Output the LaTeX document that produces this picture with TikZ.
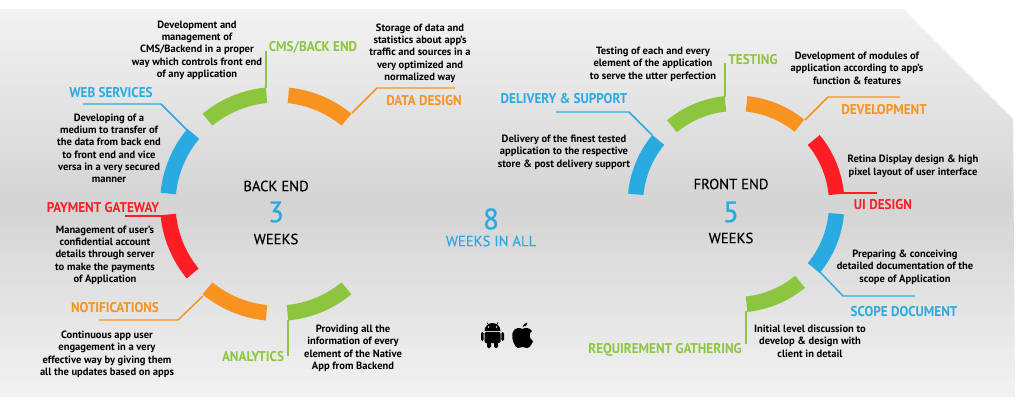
\documentclass[tikz,border=0pt]{standalone}
\usepackage{fontspec}
\setmainfont{PT Sans}
\newfontfamily\headfont[FakeStretch=0.93]{PT Sans}
\newfontfamily\bigfont[FakeBold=0.7]{PT Sans}
\newfontfamily\midfont[FakeBold=0.25]{PT Sans}
\definecolor{cgreen}{HTML}{8CC63F}
\definecolor{corange}{HTML}{F7931E}
\definecolor{cblue}{HTML}{29ABE2}
\definecolor{cred}{HTML}{FF1D25}
\newcommand{\ringarc}[6]{%
  \fill[#1] ({#2+#4*cos(#5)},{#3+#4*sin(#5)}) arc[start angle=#5,end angle=#6,radius=#4] -- ({#2+(#4-15.5)*cos(#6)},{#3+(#4-15.5)*sin(#6)}) arc[start angle=#6,end angle=#5,radius=#4-15.5] -- cycle;}
\tikzset{
  x=0.75pt,y=-0.75pt,
  head/.style={font=\headfont\bfseries\fontsize{10.6pt}{12pt}\selectfont,inner sep=0pt,anchor=center,yshift=-0.75pt},
  desc/.style={font=\bfseries\fontsize{7.9pt}{9.25pt}\selectfont,align=center,text=black,inner sep=0pt,anchor=center,yshift=-0.9pt},
  lead/.style={line width=1.1pt},
  mid/.style={font=\midfont\fontsize{11pt}{13pt}\selectfont,inner sep=0pt,anchor=center},
  big/.style={font=\bigfont\fontsize{22pt}{24pt}\selectfont,text=cblue,inner sep=0pt,anchor=center},
}
\begin{document}
\begin{tikzpicture}
\useasboundingbox (0,0) rectangle (1024,408);
\fill[white] (0,0) rectangle (1024,408);
\begin{scope}
 \clip (0,9) -- (903,9) -- (1013,119) -- (1015,397) -- (0,397) -- cycle;
 \foreach \yy in {9,13,...,397}{
   \pgfmathsetmacro{\pp}{5+12*(1-abs(\yy-203)/194)}
   \fill[black!\pp!white] (0,\yy) rectangle (1024,\yy+4.6);
 }
\end{scope}
% left ring
\ringarc{cgreen}{277}{204}{117}{-95.5}{-129.5}
\ringarc{corange}{277}{204}{117}{-84}{-50.5}
\ringarc{cblue}{277}{204}{117}{-140}{-174.5}
\ringarc{cred}{277}{204}{117}{-185.5}{-219.5}
\ringarc{corange}{277}{204}{117}{-230.5}{-264.5}
\ringarc{cgreen}{277}{204}{117}{-275.5}{-309.5}
% right ring
\ringarc{cgreen}{736}{204}{108.5}{-96}{-129.5}
\ringarc{corange}{736}{204}{108.5}{-84}{-51}
\ringarc{cred}{736}{204}{108.5}{-39.5}{-5.5}
\ringarc{cblue}{736}{204}{108.5}{5.5}{39.5}
\ringarc{cgreen}{736}{204}{108.5}{50.5}{84}
\ringarc{cblue}{736}{204}{108.5}{-140.5}{-174.5}
% leader coordinates
\coordinate (l1a) at (266,51);\coordinate (l1b) at (266,88);
\coordinate (l2a) at (455,88);\coordinate (l2m) at (377,88);\coordinate (l2b) at (352,113);
\coordinate (l3a) at (83,104);\coordinate (l3m) at (161,104);\coordinate (l3b) at (187,130);
\coordinate (l4a) at (125,216);\coordinate (l4b) at (161,216);
\coordinate (l5a) at (99,320);\coordinate (l5m) at (178,320);\coordinate (l5b) at (203,296);
\coordinate (l6a) at (288,356);\coordinate (l6b) at (288,320);
\coordinate (r1a) at (725,63);\coordinate (r1b) at (725,97);
\coordinate (r2a) at (900,97);\coordinate (r2m) at (828,97);\coordinate (r2b) at (805,120);
\coordinate (r3a) at (556,112);\coordinate (r3m) at (629,112);\coordinate (r3b) at (652,135);
\coordinate (r4a) at (877,193);\coordinate (r4b) at (843,193);
\coordinate (r5a) at (915,296);\coordinate (r5m) at (843,296);\coordinate (r5b) at (820,272);
\coordinate (r6a) at (746,344);\coordinate (r6b) at (746,311);
\draw[lead,cgreen] (l1a) -- (l1b);
\draw[lead,corange] (l2a) -- (l2m) -- (l2b);
\draw[lead,cblue] (l3a) -- (l3m) -- (l3b);
\draw[lead,cred] (l4a) -- (l4b);
\draw[lead,corange] (l5a) -- (l5m) -- (l5b);
\draw[lead,cgreen] (l6a) -- (l6b);
\draw[lead,cgreen] (r1a) -- (r1b);
\draw[lead,corange] (r2a) -- (r2m) -- (r2b);
\draw[lead,cblue] (r3a) -- (r3m) -- (r3b);
\draw[lead,cred] (r4a) -- (r4b);
\draw[lead,cblue] (r5a) -- (r5m) -- (r5b);
\draw[lead,cgreen] (r6a) -- (r6b);
% headings
\node[head,text=cgreen] (h1) at (313,46) {CMS/BACK END};
\node[head,text=corange] (h2) at (424,100) {DATA DESIGN};
\node[head,text=cblue] (h3) at (111,92) {WEB SERVICES};
\node[head,text=cred] (h4) at (103,207) {PAYMENT GATEWAY};
\node[head,text=corange] (h5) at (115,307) {NOTIFICATIONS};
\node[head,text=cgreen] (h6) at (253,356) {ANALYTICS};
\node[head,text=cblue] (h7) at (564,98) {DELIVERY \& SUPPORT};
\node[head,text=cgreen] (h8) at (753,59) {TESTING};
\node[head,text=corange] (h9) at (884,109) {DEVELOPMENT};
\node[head,text=cred] (h10) at (883,204) {UI DESIGN};
\node[head,text=cblue] (h11) at (904,311) {SCOPE DOCUMENT};
\node[head,text=cgreen] (h12) at (665,349) {REQUIREMENT GATHERING};
% descriptions
\node[desc] (d1) at (197,49) {Development and\\management of\\CMS/Backend in a proper\\way which controls front end\\of any application};
\node[desc] (d2) at (420,52) {Storage of data and\\statistics about app's\\traffic and sources in a\\very optimized and\\normalized way};
\node[desc] (d3) at (109,147) {Developing of a\\medium to transfer of\\the data from back end\\to front end and vice\\versa in a very secured\\manner};
\node[desc] (d4) at (105,254) {Management of user's\\confidential account\\details through server\\to make the payments\\of Application};
\node[desc] (d5) at (107,353) {Continuous app user\\engagement in a very\\effective way by giving them\\all the updates based on apps};
\node[desc] (d6) at (353,347) {Providing all the\\information of every\\element of the Native\\App from Backend};
\node[desc] (d7) at (564,151) {Delivery of the finest tested\\application to the respective\\store \& post delivery support};
\node[desc] (d8) at (653,63) {Testing of each and every\\element of the application\\to serve the utter perfection};
\node[desc] (d9) at (857,67) {Development of modules of\\application according to app's\\function \& features};
\node[desc] (d10) at (913,165) {Retina Display design \& high\\pixel layout of user interface};
\node[desc] (d11) at (905,266) {Preparing \& conceiving\\detailed documentation of the\\scope of Application};
\node[desc] (d12) at (810,340) {Initial level discussion to\\develop \& design with\\client in detail};
% centres
\node[mid] (c1) at (276,186) {BACK END};
\node[big] (c2) at (276,212) {3};
\node[mid] (c3) at (276,239) {WEEKS};
\node[mid] (c4) at (731,184) {FRONT END};
\node[big] (c5) at (731,212) {5};
\node[mid] (c6) at (731,238) {WEEKS};
\node[big] (c7) at (491,219) {8};
\node[mid,text=cblue] (c8) at (491,241) {WEEKS IN ALL};
% android icon
\fill[black] (484.5,331) -- (500.5,331) arc[start angle=0,end angle=-180,radius=8] -- cycle;
\fill[black,rounded corners=1] (484.5,332) rectangle (500.5,343);
\fill[black,rounded corners=1] (487,342) rectangle (491,348);
\fill[black,rounded corners=1] (494,342) rectangle (498,348);
\fill[black,rounded corners=1] (481,332) rectangle (483.6,341);
\fill[black,rounded corners=1] (501.4,332) rectangle (504,341);
\draw[black,line width=0.5pt] (487,322.5) -- (488.5,325);
\draw[black,line width=0.5pt] (498,322.5) -- (496.5,325);
\fill[gray!20] (488.5,327) circle[radius=0.8];
\fill[gray!20] (496.5,327) circle[radius=0.8];
% apple icon
\fill[black] (522.5,329)
 .. controls (520,327.5) and (514,327) .. (512.5,333)
 .. controls (511,339) and (515,348) .. (518,348)
 .. controls (520,348) and (521,347) .. (522.5,347)
 .. controls (524,347) and (525,348) .. (527,348)
 .. controls (530,348) and (532.5,343) .. (533,341)
 .. controls (529,339) and (528.5,333) .. (532,331)
 .. controls (529,327) and (525,327.5) .. (522.5,329) -- cycle;
\fill[black] (522.5,327) .. controls (522.5,325) and (525,323) .. (527.5,322.5) .. controls (527.5,325) and (525.5,327) .. (522.5,327) -- cycle;
\end{tikzpicture}
\end{document}
